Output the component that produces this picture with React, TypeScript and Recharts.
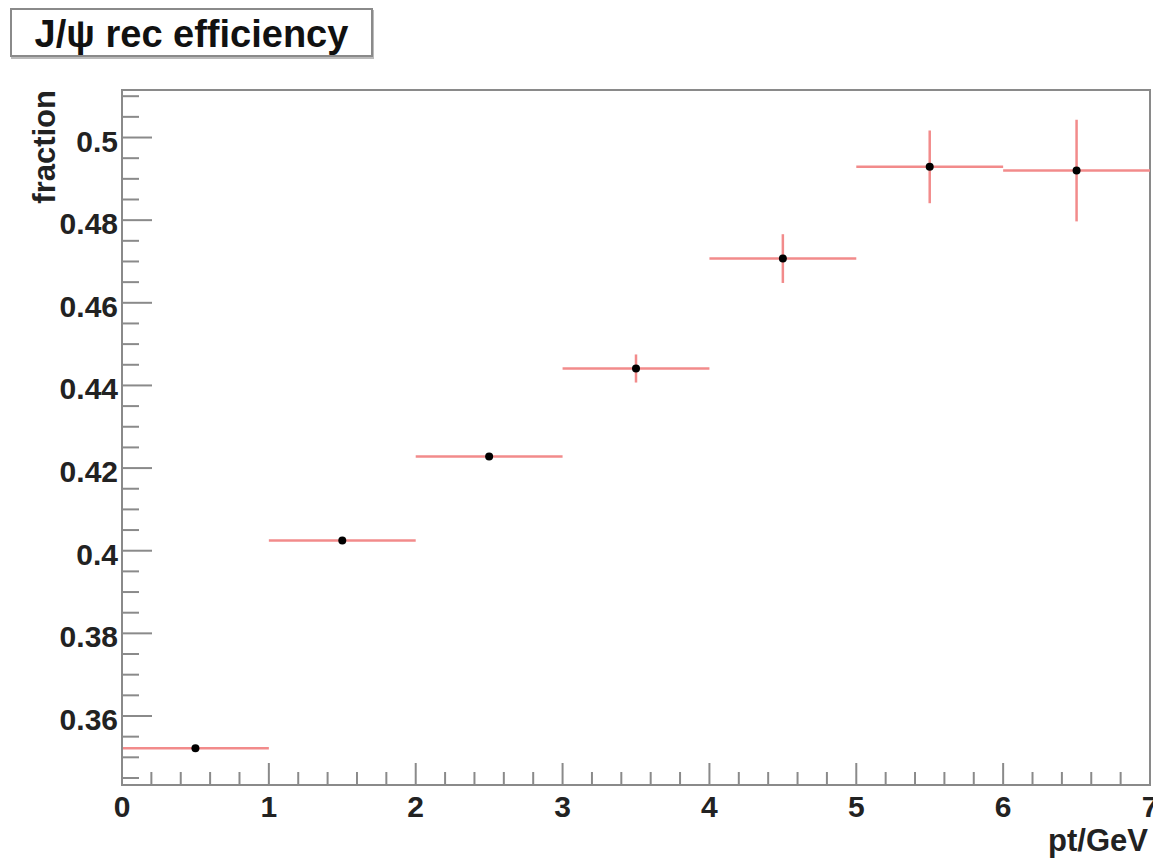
import { ScatterChart, Scatter, XAxis, YAxis, ErrorBar, ReferenceArea } from "recharts";

// pt bins (GeV) and reconstruction efficiency
const binCenters = [0.5, 1.5, 2.5, 3.5, 4.5, 5.5, 6.5];
const binHalfWidths = [0.5, 0.5, 0.5, 0.5, 0.5, 0.5, 0.5];
const fractions = [0.3522, 0.4025, 0.4228, 0.4441, 0.4707, 0.4929, 0.492];
const fractionErrors = [0.0006, 0.0005, 0.0007, 0.0034, 0.0059, 0.0088, 0.0123];

const xTicks = [
  0, 0.2, 0.4, 0.6, 0.8, 1, 1.2, 1.4, 1.6, 1.8, 2, 2.2, 2.4, 2.6, 2.8, 3, 3.2,
  3.4, 3.6, 3.8, 4, 4.2, 4.4, 4.6, 4.8, 5, 5.2, 5.4, 5.6, 5.8, 6, 6.2, 6.4,
  6.6, 6.8, 7,
];
const yTicks = [
  0.345, 0.35, 0.355, 0.36, 0.365, 0.37, 0.375, 0.38, 0.385, 0.39, 0.395, 0.4,
  0.405, 0.41, 0.415, 0.42, 0.425, 0.43, 0.435, 0.44, 0.445, 0.45, 0.455, 0.46,
  0.465, 0.47, 0.475, 0.48, 0.485, 0.49, 0.495, 0.5, 0.505, 0.51,
];

const X_DOMAIN: [number, number] = [0, 7];
const Y_DOMAIN: [number, number] = [0.3433, 0.5115];

const AXIS = "#8a8a8a";
const ERR = "#f28b8b";
const FONT = '"Liberation Sans", Arial, Helvetica, sans-serif';

const data = binCenters.map((x, i) => ({
  x,
  y: fractions[i],
  ex: binHalfWidths[i],
  ey: fractionErrors[i],
}));

function XTick(props: any) {
  const { x, y, payload } = props;
  const v = payload.value as number;
  const major = Math.abs(v - Math.round(v)) < 1e-6;
  return (
    <g>
      <line x1={x} x2={x} y1={y} y2={y - (major ? 22 : 13)} stroke={AXIS} strokeWidth={2} />
      {major && (
        <text x={x} y={y + 32} textAnchor="middle" fontFamily={FONT} fontWeight="bold" fontSize={30} fill="#222">
          {Math.round(v)}
        </text>
      )}
    </g>
  );
}

function YTick(props: any) {
  const { x, y, payload } = props;
  const v = payload.value as number;
  const major = Math.round(v * 1000) % 20 === 0;
  return (
    <g>
      <line x1={x} x2={x + (major ? 30 : 17)} y1={y} y2={y} stroke={AXIS} strokeWidth={2} />
      {major && (
        <text x={x - 4} y={y + 14} textAnchor="end" fontFamily={FONT} fontWeight="bold" fontSize={30} fill="#222">
          {String(Number(v.toFixed(2)))}
        </text>
      )}
    </g>
  );
}

function Dot(props: any) {
  const { cx, cy } = props;
  return <circle cx={cx} cy={cy} r={4} fill="#000" />;
}

export default function App() {
  return (
    <div
      style={{
        position: "absolute",
        left: 0,
        top: 0,
        width: 1153,
        height: 859,
        background: "#fff",
        fontFamily: FONT,
      }}
    >
      <ScatterChart width={1153} height={859} margin={{ top: 90, right: 3, bottom: 0, left: 0 }}>
        <XAxis
          dataKey="x"
          type="number"
          domain={X_DOMAIN}
          ticks={xTicks}
          interval={0}
          height={74}
          tickSize={0}
          tickMargin={0}
          tickLine={false}
          axisLine={{ stroke: AXIS, strokeWidth: 2 }}
          tick={<XTick />}
          allowDataOverflow
        />
        <YAxis
          dataKey="y"
          type="number"
          domain={Y_DOMAIN}
          ticks={yTicks}
          interval={0}
          width={122}
          tickSize={0}
          tickMargin={0}
          tickLine={false}
          axisLine={{ stroke: AXIS, strokeWidth: 2 }}
          tick={<YTick />}
          allowDataOverflow
        />
        <ReferenceArea
          x1={X_DOMAIN[0]}
          x2={X_DOMAIN[1]}
          y1={Y_DOMAIN[0]}
          y2={Y_DOMAIN[1]}
          fillOpacity={0}
          stroke={AXIS}
          strokeWidth={2}
        />
        <Scatter data={data} shape={<Dot />} isAnimationActive={false}>
          <ErrorBar dataKey="ex" direction="x" width={0} stroke={ERR} strokeWidth={2.5} />
          <ErrorBar dataKey="ey" direction="y" width={0} stroke={ERR} strokeWidth={2.5} />
        </Scatter>
      </ScatterChart>

      <div
        style={{
          position: "absolute",
          left: 10,
          top: 8,
          width: 363,
          height: 49,
          boxSizing: "border-box",
          border: `2px solid ${AXIS}`,
          boxShadow: "1px 2px 0 #bbb",
          display: "flex",
          alignItems: "center",
          justifyContent: "center",
          paddingTop: 3,
          fontSize: 38,
          fontWeight: "bold",
          color: "#111",
          lineHeight: 1,
        }}
      >
        J/ψ rec efficiency
      </div>

      <div
        style={{
          position: "absolute",
          left: 0,
          top: 0,
          width: 200,
          lineHeight: "31px",
          fontSize: 31,
          fontWeight: "bold",
          color: "#222",
          textAlign: "right",
          transformOrigin: "0 0",
          transform: "translate(29px, 290px) rotate(-90deg)",
        }}
      >
        fraction
      </div>

      <div
        style={{
          position: "absolute",
          right: 5,
          top: 825,
          lineHeight: "31px",
          fontSize: 31,
          fontWeight: "bold",
          color: "#222",
        }}
      >
        pt/GeV
      </div>
    </div>
  );
}
